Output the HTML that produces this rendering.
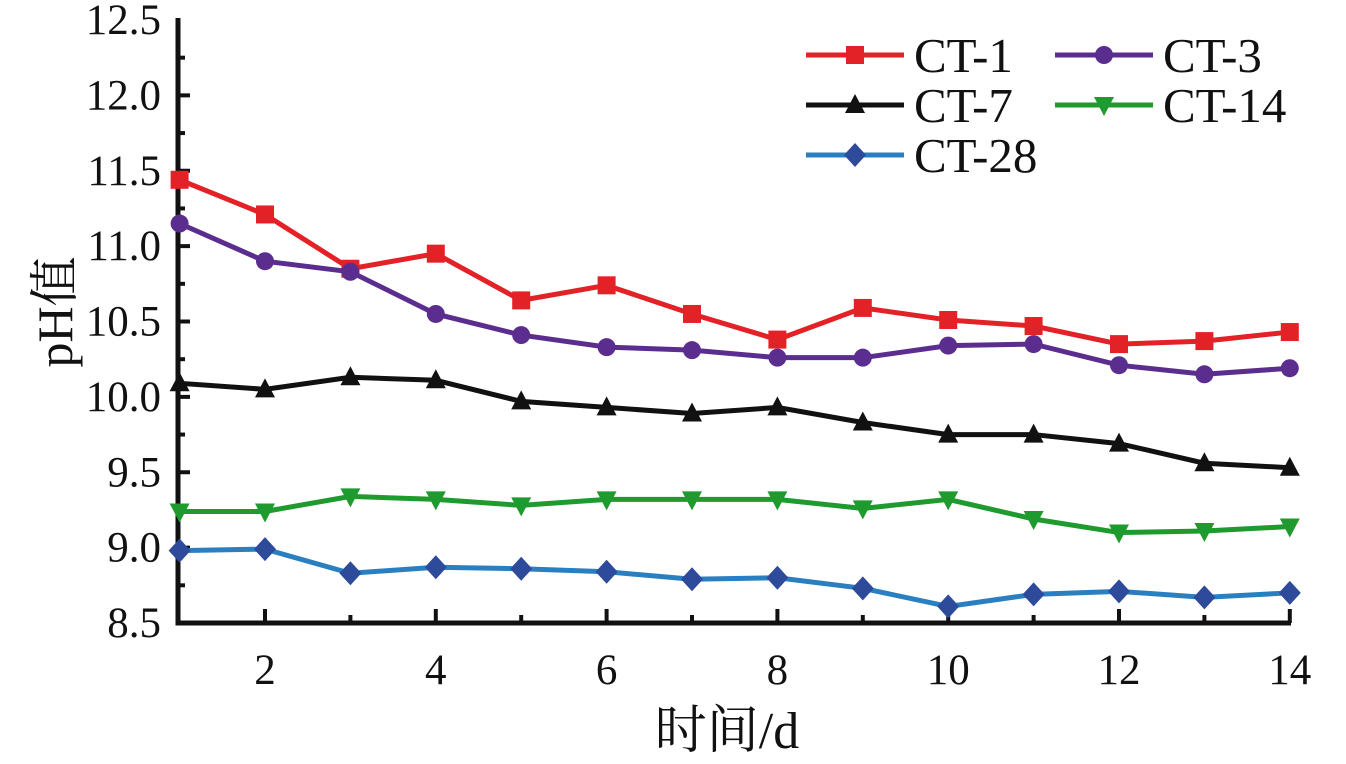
<!DOCTYPE html>
<html><head><meta charset="utf-8"><style>
body{margin:0;background:#fff;}
svg{display:block;font-family:"Liberation Serif","Noto Serif CJK SC",serif;}
</style></head><body>
<svg id="chart" width="1346" height="764" viewBox="0 0 1346 764" xmlns="http://www.w3.org/2000/svg"></svg>
<script>
const days=[1,2,3,4,5,6,7,8,9,10,11,12,13,14];
const ct1=[11.44,11.21,10.85,10.95,10.64,10.74,10.55,10.38,10.59,10.51,10.47,10.35,10.37,10.43];
const ct3=[11.15,10.90,10.83,10.55,10.41,10.33,10.31,10.26,10.26,10.34,10.35,10.21,10.15,10.19];
const ct7=[10.09,10.05,10.13,10.11,9.97,9.93,9.89,9.93,9.83,9.75,9.75,9.69,9.56,9.53];
const ct14=[9.24,9.24,9.34,9.32,9.28,9.32,9.32,9.32,9.26,9.32,9.19,9.10,9.11,9.14];
const ct28=[8.98,8.99,8.83,8.87,8.86,8.84,8.79,8.80,8.73,8.61,8.69,8.71,8.67,8.70];
const yTicks=["8.5","9.0","9.5","10.0","10.5","11.0","11.5","12.0","12.5"];
const xTicks=["2","4","6","8","10","12","14"];
const NS="http://www.w3.org/2000/svg";
const svg=document.getElementById('chart');
const X=d=>179.6+(d-1)*85.4;
const Y=v=>623-(v-8.5)*150.75;
function el(t,a,p){const e=document.createElementNS(NS,t);for(const k in a)e.setAttribute(k,a[k]);(p||svg).appendChild(e);return e;}
let ax=el('path',{d:`M178,18 V623 H1291`,fill:'none',stroke:'#111','stroke-width':5});


for(let v=8.75;v<12.5;v+=0.25){
  const major=Math.abs(v*2-Math.round(v*2))<1e-6;
  el('line',{x1:178,x2:178+(major?12:7),y1:Y(v),y2:Y(v),stroke:'#111','stroke-width':4});
}
for(let d=2;d<=14;d++){
  const major=d%2===0;
  el('line',{x1:X(d),x2:X(d),y1:623,y2:623-(major?14:8),stroke:'#111','stroke-width':4});
}
yTicks.forEach(t=>{
  const e=el('text',{x:161,y:Y(parseFloat(t))+14,'text-anchor':'end','font-size':43,fill:'#111'});
  e.textContent=t;
  
  
});
xTicks.forEach(t=>{
  const e=el('text',{x:X(parseFloat(t)),y:684,'text-anchor':'middle','font-size':43,fill:'#111'});
  e.textContent=t;
  
  
});
let xt=el('text',{x:727,y:748,'text-anchor':'middle','font-size':52,fill:'#111'});
xt.textContent='时间/d';


let yt=el('text',{x:0,y:0,'text-anchor':'middle','font-size':50,fill:'#111',transform:'translate(72,312) rotate(-90)'});
yt.textContent='pH值';


function marker(g,shape,x,y,c){
  if(shape==='sq') el('rect',{x:x-9,y:y-9,width:18,height:18,fill:c},g);
  else if(shape==='ci') el('circle',{cx:x,cy:y,r:9,fill:c},g);
  else if(shape==='up') el('path',{d:`M${x},${y-11} L${x+10},${y+8} L${x-10},${y+8}Z`,fill:c},g);
  else if(shape==='dn') el('path',{d:`M${x},${y+11} L${x+10},${y-8} L${x-10},${y-8}Z`,fill:c},g);
  else el('path',{d:`M${x},${y-12} L${x+11},${y} L${x},${y+12} L${x-11},${y}Z`,fill:c},g);
}
const series=[
 {n:'CT-1',d:ct1,c:'#e32228',m:'sq',mc:'#e32228'},
 {n:'CT-3',d:ct3,c:'#5b2d8e',m:'ci',mc:'#5b2d8e'},
 {n:'CT-7',d:ct7,c:'#111111',m:'up',mc:'#111111'},
 {n:'CT-14',d:ct14,c:'#1f9a2e',m:'dn',mc:'#1f9a2e'},
 {n:'CT-28',d:ct28,c:'#2a7fc0',m:'di',mc:'#2e4a9a'}];
series.forEach(s=>{
  const g=el('g',{});
  
  
  el('polyline',{points:s.d.map((v,i)=>X(days[i])+','+Y(v)).join(' '),fill:'none',stroke:s.c,'stroke-width':5},g);
  s.d.forEach((v,i)=>marker(g,s.m,X(days[i]),Y(v),s.mc));
});
const leg=[[0,806,55],[1,1055,55],[2,806,105],[3,1055,105],[4,806,155]];
leg.forEach(([i,x,y])=>{
  const s=series[i];
  const g=el('g',{});
  
  
  el('line',{x1:x,x2:x+98,y1:y,y2:y,stroke:s.c,'stroke-width':5},g);
  marker(g,s.m,x+49,y,s.mc);
  const t=el('text',{x:x+108,y:y+17,'font-size':49,fill:'#111'},g);
  t.textContent=s.n;
});
</script>
</body></html>
